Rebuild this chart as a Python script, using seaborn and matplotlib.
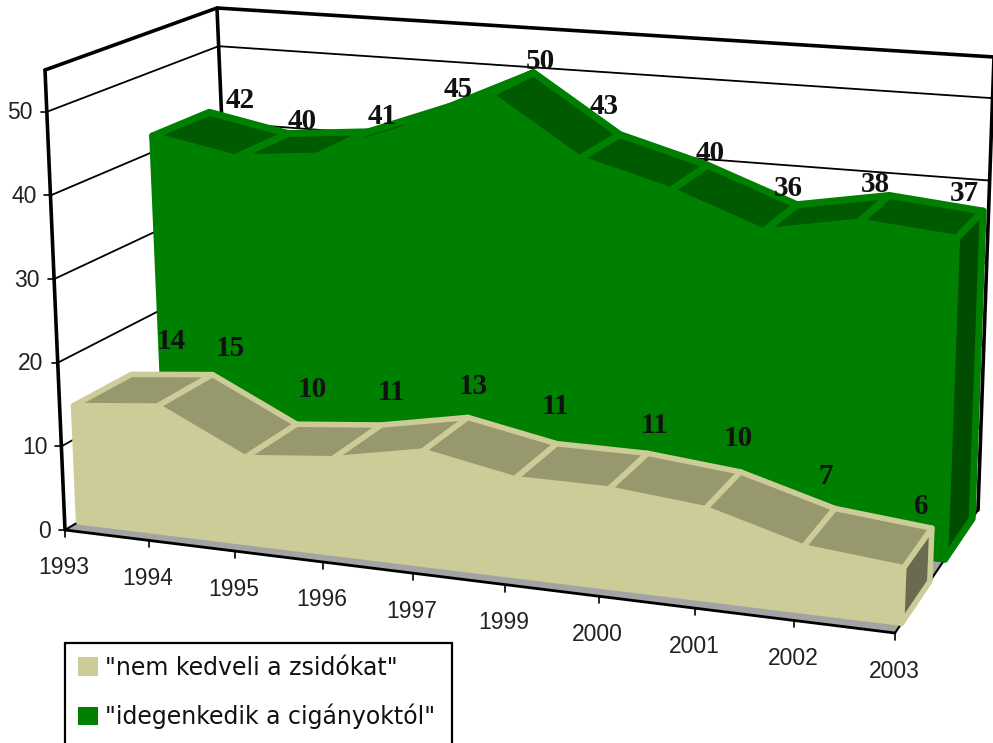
import numpy as np
import pandas as pd
import matplotlib
matplotlib.use("Agg")
import matplotlib.pyplot as plt
from matplotlib.patches import Patch, Rectangle
import seaborn as sns

years = ["1993", "1994", "1995", "1996", "1997", "1999", "2000", "2001", "2002", "2003"]
zsido = [14, 15, 10, 11, 13, 11, 11, 10, 7, 6]
cigany = [42, 40, 41, 45, 50, 43, 40, 36, 38, 37]
y_ticks = [0, 10, 20, 30, 40, 50]
y_top = 55
legend_labels = ['"nem kedveli a zsidókat"', '"idegenkedik a cigányoktól"']

BEIGE, BEIGE_TOP, BEIGE_SIDE = "#CCCC99", "#98986F", "#6A6A50"
GREEN, GREEN_TOP, GREEN_SIDE = "#008000", "#005A00", "#004C00"

# pixel positions of the chart box corners: (x, z) -> bottom, top
BOX = {
    (0, 0): ((65, 530), (45, 70)),
    (1, 0): ((895, 633), (915, 120)),
    (0, 1): ((235, 428), (217, 8)),
    (1, 1): ((978, 510), (994, 57)),
}

# the value labels sit unevenly in the original, small pixel nudges
GREEN_DX = [-2, -13, -7, -6, -2, -18, 8, 4, 6, 9]
GREEN_DY = [0, 0, -3, -4, 2, -14, 3, -1, 5, -1]
BEIGE_DX = [8, -10, -8, -9, -10, -11, 2, -2, -3, 1]
BEIGE_DY = [-2, 5, -3, -1, 2, -4, 6, 1, 3, 14]


def project(x, z, v):
    # foreshortening along the x axis, then trilinear inside the box
    t = x / (x + 1.11 * (1 - x))
    h = v / y_top
    out = np.zeros(2)
    for (cx, cz), (low, high) in BOX.items():
        w = (t if cx else 1 - t) * (z if cz else 1 - z)
        out += w * ((1 - h) * np.array(low) + h * np.array(high))
    return out[0], out[1]


def pos(i):
    return i / (len(years) - 1)


def draw_line(ax, pts, lw, color="black", zorder=2):
    xy = np.array([project(*p) for p in pts])
    df = pd.DataFrame({"px": xy[:, 0], "py": xy[:, 1]})
    sns.lineplot(data=df, x="px", y="py", sort=False, estimator=None, color=color, lw=lw, ax=ax,
                 legend=False, zorder=zorder)


def draw_series(ax, values, z0, z1, base, top, side, lw, zorder):
    n = len(values)
    front = [project(pos(i), z0, values[i]) for i in range(n)]
    foot = [project(pos(n - 1), z0, 0), project(pos(0), z0, 0)]
    ax.fill(*zip(*(front + foot)), color=base, lw=lw, joinstyle="round", zorder=zorder)
    for i in range(n - 1):
        quad = [project(pos(i), z0, values[i]), project(pos(i + 1), z0, values[i + 1]),
                project(pos(i + 1), z1, values[i + 1]), project(pos(i), z1, values[i])]
        ax.fill(*zip(*quad), facecolor=top, edgecolor=base, lw=lw, joinstyle="round", zorder=zorder)
    last = values[-1]
    quad = [project(1, z0, last), project(1, z1, last), project(1, z1, 0), project(1, z0, 0)]
    ax.fill(*zip(*quad), facecolor=side, edgecolor=base, lw=lw, joinstyle="round", zorder=zorder)


sns.set_style("white")
plt.rcParams["font.family"] = ["Liberation Sans", "DejaVu Sans"]

fig = plt.figure(figsize=(9.93, 7.43), dpi=100)
ax = fig.add_axes([0, 0, 1, 1])

# floor
ax.fill(*zip(project(0, 0, 0), project(1, 0, 0), project(1, 1, 0), project(0, 1, 0)), color="#A3A3A3", lw=0, zorder=1)

# walls
for v in y_ticks[1:]:
    draw_line(ax, [(0, 0, v), (0, 1, v), (1, 1, v)], 1.3)
draw_line(ax, [(0, 0, y_top), (0, 1, y_top), (1, 1, y_top)], 2.6)
draw_line(ax, [(0, 0, 0), (0, 0, y_top)], 2.6)
draw_line(ax, [(0, 1, 0), (0, 1, y_top)], 2.6)
draw_line(ax, [(1, 1, 0), (1, 1, y_top)], 2.6)
draw_line(ax, [(0, 0, 0), (0, 1, 0)], 1.5)
draw_line(ax, [(1, 0, 0), (1, 1, 0)], 1.5)

draw_series(ax, cigany, 0.6, 0.93, GREEN, GREEN_TOP, GREEN_SIDE, 5, 3)
draw_series(ax, zsido, 0.08, 0.42, BEIGE, BEIGE_TOP, BEIGE_SIDE, 4, 4)

# front floor edge, ticks
draw_line(ax, [(0, 0, 0), (1, 0, 0)], 2, zorder=5)
for i, year in enumerate(years):
    px, py = project(pos(i), 0, 0)
    ax.plot([px, px], [py, py + 7], color="black", lw=1.2, zorder=5)
    ax.text(px - 1, py + 38, year, ha="center", va="center", fontsize=16.5, color="#222222")
for v in y_ticks:
    px, py = project(0, 0, v)
    ax.plot([px - 6, px], [py, py], color="black", lw=1.2, zorder=5)
    ax.text(px - 14, py + 1, str(v), ha="right", va="center", fontsize=16.5, color="#222222")

# value labels
for i, v in enumerate(cigany):
    px, py = project(0.03 + 0.93 * pos(i), 1, v)
    ax.text(px + GREEN_DX[i], py - 8 + GREEN_DY[i], str(v), ha="center", va="center", fontsize=21,
            fontweight="bold", family=["Liberation Serif"], color="#111111", zorder=6)
for i, v in enumerate(zsido):
    px, py = project(0.044 + 0.943 * pos(i), 0.42, v)
    ax.text(px + BEIGE_DX[i], py - 34 + BEIGE_DY[i], str(v), ha="center", va="center", fontsize=21,
            fontweight="bold", family=["Liberation Serif"], color="#111111", zorder=6)

ax.set_xlim(0, 993)
ax.set_ylim(743, 0)
ax.axis("off")

# the legend box runs off the bottom of the picture
ax.add_patch(Rectangle((65, 643), 387, 130, facecolor="white", edgecolor="black", lw=1.6, zorder=7))
handles = [Patch(facecolor=BEIGE, edgecolor="none"), Patch(facecolor=GREEN, edgecolor="none")]
leg = ax.legend(handles, legend_labels, loc="upper left", bbox_to_anchor=(65, 643), bbox_transform=ax.transData,
                prop={"family": "DejaVu Sans", "size": 17}, frameon=False, borderpad=0.55, labelspacing=1.0,
                handlelength=0.85, handleheight=0.85, handletextpad=0.3, borderaxespad=0)
for text in leg.get_texts():
    text.set_color("#111111")
leg.set_zorder(8)

plt.savefig("out.png", dpi=100)
plt.close()
